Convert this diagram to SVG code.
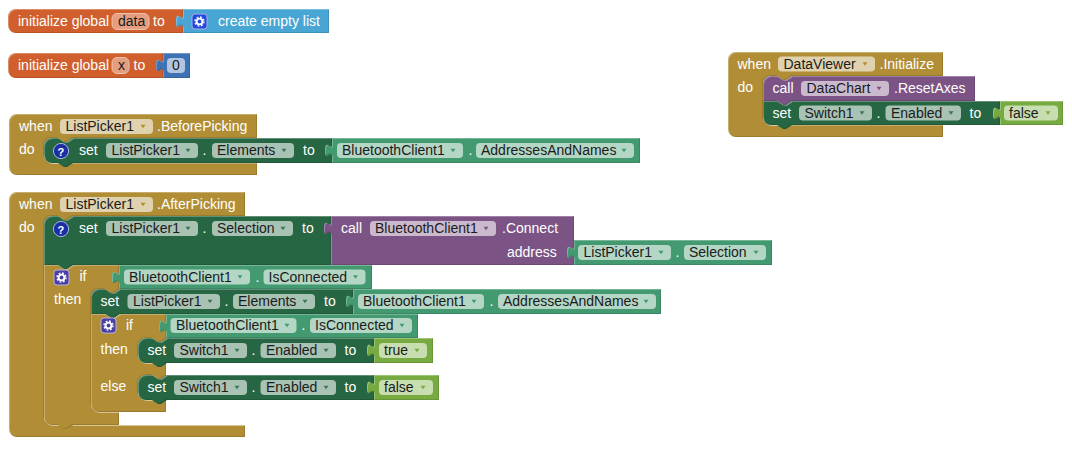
<svg xmlns="http://www.w3.org/2000/svg" width="1072" height="455" viewBox="0 0 1072 455">
<style>
text{font-family:"Liberation Sans",Arial,sans-serif;font-size:14px;fill:#fff}
text.f{fill:#1b1b1b}
.b{filter:url(#bevel)}
.gold{fill:#b18e35}.dg{fill:#266643}.mg{fill:#439970}.pu{fill:#7c5385}.or{fill:#d05f2d}.lb{fill:#49a6d4}.nb{fill:#3f71b5}.lg{fill:#77ab41}
.fgold{fill:#e0d2ae}.fdg{fill:#a8c2b4}.fmg{fill:#b3d6c5}.fpu{fill:#cbbace}.flg{fill:#c8ddb0}.fnb{fill:#b2c6e1}
.for{fill:#e59f80;stroke:#efbfa8;stroke-width:1}
.hl{fill:none;stroke:#fff;stroke-opacity:.8;stroke-width:1}
.agold{fill:#b18e35}.adg{fill:#3d7558}.amg{fill:#439970}.apu{fill:#7c5385}.alg{fill:#77ab41}
</style>
<defs>
<filter id="bevel" x="-5%" y="-10%" width="110%" height="120%" color-interpolation-filters="sRGB">
<feOffset in="SourceAlpha" dx="1" dy="1" result="o1"/>
<feComposite in="SourceAlpha" in2="o1" operator="out" result="e1"/>
<feFlood flood-color="#fff" flood-opacity=".28"/>
<feComposite in2="e1" operator="in" result="light"/>
<feOffset in="SourceAlpha" dx="-1" dy="-1" result="o2"/>
<feComposite in="SourceAlpha" in2="o2" operator="out" result="e2"/>
<feFlood flood-color="#000" flood-opacity=".12"/>
<feComposite in2="e2" operator="in" result="dark"/>
<feMerge><feMergeNode in="SourceGraphic"/><feMergeNode in="light"/><feMergeNode in="dark"/></feMerge>
</filter>
<path id="tab" d="M0,0c0,9 -7,-7 -7,6.500s7,-2.500 7,6.500z"/>
<path id="arr" d="M-2.500,-1.700h5l-2.500,3.400z"/>
<g id="gear"><circle r="2.900" fill="none" stroke="#fff" stroke-width="1.900"/><circle r="4.500" fill="none" stroke="#fff" stroke-width="1.400" stroke-dasharray="1.77 1.77"/></g>
<g id="ask"><circle r="7.600" fill="#1a2fa5" stroke="#aab6de" stroke-width="1"/></g>
</defs>

<g id="init-data">
<g class="b"><path class="or" d="M16,9H183V33H16a8,8 0 0 1 -8,-8V17a8,8 0 0 1 8,-8z"/></g>
<text x="18" y="26">initialize global</text>
<rect class="for" x="112" y="13.500" width="37" height="16" rx="5"/><text class="f" x="118" y="26">data</text>
<text x="153" y="26">to</text>
</g>
<g id="create-empty-list">
<g class="b lb"><use href="#tab" x="183" y="15"/><rect x="183" y="9" width="146" height="24"/></g>
<rect x="192" y="14" width="15" height="15" rx="3" fill="#2249dc" stroke="#9fb1ea"/><use href="#gear" x="199.500" y="21.500"/>
<text x="218" y="26">create empty list</text>
</g>

<g id="init-x">
<g class="b"><path class="or" d="M16,53H163V78H16a8,8 0 0 1 -8,-8V61a8,8 0 0 1 8,-8z"/></g>
<text x="18" y="70">initialize global</text>
<rect class="for" x="112" y="57.500" width="17" height="16" rx="5"/><text class="f" x="118" y="70">x</text>
<text x="133.500" y="70">to</text>
</g>
<g id="number-0">
<g class="b nb"><use href="#tab" x="163" y="59"/><rect x="163" y="53" width="27" height="25"/></g>
<rect class="fnb" x="167" y="58" width="18" height="15" rx="4"/><text class="f" x="172" y="70">0</text>
</g>

<g id="before-picking">
<g class="b"><path class="gold" d="M17,114H257V138H73l-6,4h-3l-6,-4H52a8,8 0 0 0 -8,8V155a8,8 0 0 0 8,8H257V175H17a8,8 0 0 1 -8,-8V122a8,8 0 0 1 8,-8z"/></g>
<path class="hl" d="M44.500,155a8,8 0 0 0 8,8H62"/>
<text x="19" y="131">when</text>
<rect class="fgold" x="60" y="119" width="93" height="15" rx="4"/><text class="f" x="65.500" y="131">ListPicker1</text><use href="#arr" class="agold" x="143" y="126.500"/>
<text x="157" y="131">.BeforePicking</text>
<text x="19" y="154">do</text>
</g>
<g id="set-elements">
<g class="b"><path class="dg" d="M44,146a8,8 0 0 1 8,-8H58l6,4h3l6,-4H332V163H73l-6,4h-3l-6,-4H52a8,8 0 0 1 -8,-8z"/></g>
<use href="#ask" x="61" y="151"/><text x="57.500" y="155.500" style="font-size:11px;font-weight:bold">?</text>
<text x="79" y="155">set</text>
<rect class="fdg" x="106" y="143" width="92" height="15" rx="4"/><text class="f" x="111.500" y="155">ListPicker1</text><use href="#arr" class="adg" x="188" y="150.500"/>
<text x="202.500" y="155">.</text>
<rect class="fdg" x="212" y="143" width="82" height="15" rx="4"/><text class="f" x="217" y="155">Elements</text><use href="#arr" class="adg" x="284" y="150.500"/>
<text x="303" y="155">to</text>
</g>
<g id="get-addresses-1">
<g class="b mg"><use href="#tab" x="332" y="144"/><rect x="332" y="138" width="308" height="25"/></g>
<rect class="fmg" x="337" y="143" width="126" height="15" rx="4"/><text class="f" x="342" y="155">BluetoothClient1</text><use href="#arr" class="amg" x="453" y="150.500"/>
<text x="468.500" y="155">.</text>
<rect class="fmg" x="476" y="143" width="158" height="15" rx="4"/><text class="f" x="481" y="155">AddressesAndNames</text><use href="#arr" class="amg" x="624" y="150.500"/>
</g>

<g id="after-picking">
<g class="b"><path class="gold" d="M17,192H245V216H73l-6,4h-3l-6,-4H52a8,8 0 0 0 -8,8V417a8,8 0 0 0 8,8H245V437H17a8,8 0 0 1 -8,-8V200a8,8 0 0 1 8,-8z"/></g>
<path class="hl" d="M44.500,417a8,8 0 0 0 8,8H60M73,425H245" style="stroke-opacity:.6"/>
<text x="19" y="209">when</text>
<rect class="fgold" x="60" y="197" width="93" height="15" rx="4"/><text class="f" x="65.500" y="209">ListPicker1</text><use href="#arr" class="agold" x="143" y="204.500"/>
<text x="157" y="209">.AfterPicking</text>
<text x="19" y="232">do</text>
</g>
<g id="outer-if">
<g class="b"><path class="gold" d="M44,265H58l6,4h3l6,-4H119V289H120l-6,4h-3l-6,-4H99a8,8 0 0 0 -8,8V404a8,8 0 0 0 8,8H119V425H73l-6,4h-3l-6,-4H52a8,8 0 0 1 -8,-8z"/></g>
<path class="hl" d="M91.500,404a8,8 0 0 0 8,8H119" style="stroke-opacity:.6"/>
<rect x="54" y="270" width="15" height="15" rx="3" fill="#4a3fa5" stroke="#b8b3de"/><use href="#gear" x="61.500" y="277.500"/>
<text x="79.500" y="281">if</text>
<text x="54" y="304">then</text>
</g>
<g id="set-selection">
<g class="b"><path class="dg" d="M44,224a8,8 0 0 1 8,-8H58l6,4h3l6,-4H331V265H73l-6,4h-3l-6,-4H44z"/></g>
<use href="#ask" x="61" y="229"/><text x="57.500" y="233.500" style="font-size:11px;font-weight:bold">?</text>
<text x="79" y="233">set</text>
<rect class="fdg" x="106" y="221" width="92" height="15" rx="4"/><text class="f" x="111.500" y="233">ListPicker1</text><use href="#arr" class="adg" x="188" y="228.500"/>
<text x="202.500" y="233">.</text>
<rect class="fdg" x="212" y="221" width="81" height="15" rx="4"/><text class="f" x="217" y="233">Selection</text><use href="#arr" class="adg" x="283" y="228.500"/>
<text x="302" y="233">to</text>
</g>
<g id="call-connect">
<g class="b pu"><use href="#tab" x="331" y="222"/><rect x="331" y="216" width="243" height="49"/></g>
<text x="341" y="233">call</text>
<rect class="fpu" x="370" y="221" width="126" height="15" rx="4"/><text class="f" x="375" y="233">BluetoothClient1</text><use href="#arr" class="apu" x="486" y="228.500"/>
<text x="502" y="233">.Connect</text>
<text x="507" y="257">address</text>
</g>
<g id="get-selection">
<g class="b mg"><use href="#tab" x="574" y="246"/><rect x="574" y="240" width="198" height="25"/></g>
<rect class="fmg" x="578" y="245" width="93" height="15" rx="4"/><text class="f" x="583.500" y="257">ListPicker1</text><use href="#arr" class="amg" x="661" y="252.500"/>
<text x="675.500" y="257">.</text>
<rect class="fmg" x="684" y="245" width="82" height="15" rx="4"/><text class="f" x="689" y="257">Selection</text><use href="#arr" class="amg" x="756" y="252.500"/>
</g>
<g id="is-connected-1">
<g class="b mg"><use href="#tab" x="119" y="271"/><rect x="119" y="265" width="253" height="24"/></g>
<rect class="fmg" x="124" y="269.500" width="126" height="15" rx="4"/><text class="f" x="129" y="281.500">BluetoothClient1</text><use href="#arr" class="amg" x="240" y="277"/>
<text x="255.500" y="281.500">.</text>
<rect class="fmg" x="263.500" y="269.500" width="102" height="15" rx="4"/><text class="f" x="268.500" y="281.500">IsConnected</text><use href="#arr" class="amg" x="355.500" y="277"/>
</g>
<g id="set-elements-2">
<g class="b"><path class="dg" d="M91,297a8,8 0 0 1 8,-8H105l6,4h3l6,-4H353V314H120l-6,4h-3l-6,-4H91z"/></g>
<text x="100.500" y="306">set</text>
<rect class="fdg" x="127.500" y="294" width="92.500" height="15" rx="4"/><text class="f" x="133" y="306">ListPicker1</text><use href="#arr" class="adg" x="210" y="301.500"/>
<text x="224.500" y="306">.</text>
<rect class="fdg" x="233" y="294" width="82" height="15" rx="4"/><text class="f" x="238" y="306">Elements</text><use href="#arr" class="adg" x="305" y="301.500"/>
<text x="324" y="306">to</text>
</g>
<g id="get-addresses-2">
<g class="b mg"><use href="#tab" x="353" y="295"/><rect x="353" y="289" width="308" height="25"/></g>
<rect class="fmg" x="358" y="294" width="126" height="15" rx="4"/><text class="f" x="363" y="306">BluetoothClient1</text><use href="#arr" class="amg" x="474" y="301.500"/>
<text x="489.500" y="306">.</text>
<rect class="fmg" x="498" y="294" width="158" height="15" rx="4"/><text class="f" x="503" y="306">AddressesAndNames</text><use href="#arr" class="amg" x="646" y="301.500"/>
</g>
<g id="inner-if">
<g class="b"><path class="gold" d="M91,314H105l6,4h3l6,-4H166V338H167l-6,4h-3l-6,-4H146a8,8 0 0 0 -8,8V355a8,8 0 0 0 8,8H166V375H167l-6,4h-3l-6,-4H146a8,8 0 0 0 -8,8V392a8,8 0 0 0 8,8H166V412H99a8,8 0 0 1 -8,-8z"/></g>
<path class="hl" d="M138.500,355a8,8 0 0 0 8,8H166M138.500,392a8,8 0 0 0 8,8H166" style="stroke-opacity:.6"/>
<rect x="101" y="318" width="15" height="15" rx="3" fill="#4a3fa5" stroke="#b8b3de"/><use href="#gear" x="108.500" y="325.500"/>
<text x="126" y="330">if</text>
<text x="100.500" y="354">then</text>
<text x="100.500" y="391">else</text>
</g>
<g id="is-connected-2">
<g class="b mg"><use href="#tab" x="166" y="320"/><rect x="166" y="314" width="252" height="24"/></g>
<rect class="fmg" x="170.500" y="318" width="126" height="15" rx="4"/><text class="f" x="176" y="330">BluetoothClient1</text><use href="#arr" class="amg" x="287" y="325.500"/>
<text x="301.500" y="330">.</text>
<rect class="fmg" x="310" y="318" width="102" height="15" rx="4"/><text class="f" x="315" y="330">IsConnected</text><use href="#arr" class="amg" x="402" y="325.500"/>
</g>
<g id="set-enabled-true">
<g class="b"><path class="dg" d="M138,346a8,8 0 0 1 8,-8H152l6,4h3l6,-4H374V363H167l-6,4h-3l-6,-4H146a8,8 0 0 1 -8,-8z"/></g>
<text x="147.500" y="355">set</text>
<rect class="fdg" x="174" y="343" width="73" height="15" rx="4"/><text class="f" x="179.500" y="355">Switch1</text><use href="#arr" class="adg" x="237" y="350.500"/>
<text x="251.500" y="355">.</text>
<rect class="fdg" x="260.500" y="343" width="75.500" height="15" rx="4"/><text class="f" x="266" y="355">Enabled</text><use href="#arr" class="adg" x="326" y="350.500"/>
<text x="344.500" y="355">to</text>
</g>
<g id="bool-true">
<g class="b lg"><use href="#tab" x="374" y="344"/><rect x="374" y="338" width="59" height="25"/></g>
<rect class="flg" x="379" y="343" width="48" height="15" rx="4"/><text class="f" x="384" y="355">true</text><use href="#arr" class="alg" x="417" y="350.500"/>
</g>
<g id="set-enabled-false">
<g class="b"><path class="dg" d="M138,383a8,8 0 0 1 8,-8H152l6,4h3l6,-4H374V400H167l-6,4h-3l-6,-4H146a8,8 0 0 1 -8,-8z"/></g>
<text x="147.500" y="392">set</text>
<rect class="fdg" x="174" y="380" width="73" height="15" rx="4"/><text class="f" x="179.500" y="392">Switch1</text><use href="#arr" class="adg" x="237" y="387.500"/>
<text x="251.500" y="392">.</text>
<rect class="fdg" x="260.500" y="380" width="75.500" height="15" rx="4"/><text class="f" x="266" y="392">Enabled</text><use href="#arr" class="adg" x="326" y="387.500"/>
<text x="344.500" y="392">to</text>
</g>
<g id="bool-false">
<g class="b lg"><use href="#tab" x="374" y="381"/><rect x="374" y="375" width="65" height="25"/></g>
<rect class="flg" x="379" y="380" width="54" height="15" rx="4"/><text class="f" x="384" y="392">false</text><use href="#arr" class="alg" x="423" y="387.500"/>
</g>

<g id="dataviewer-init">
<g class="b"><path class="gold" d="M736,52H943V76H792l-6,4h-3l-6,-4H771a8,8 0 0 0 -8,8V117a8,8 0 0 0 8,8H943V137H736a8,8 0 0 1 -8,-8V60a8,8 0 0 1 8,-8z"/></g>
<path class="hl" d="M763.500,117a8,8 0 0 0 8,8H781"/>
<text x="737.500" y="68.500">when</text>
<rect class="fgold" x="778" y="56.500" width="97" height="15" rx="4"/><text class="f" x="783.500" y="68.500">DataViewer</text><use href="#arr" class="agold" x="865" y="64"/>
<text x="879.500" y="68.500">.Initialize</text>
<text x="737.500" y="92">do</text>
</g>
<g id="call-resetaxes">
<g class="b"><path class="pu" d="M763,84a8,8 0 0 1 8,-8H777l6,4h3l6,-4H975V101H792l-6,4h-3l-6,-4H763z"/></g>
<text x="772.500" y="93">call</text>
<rect class="fpu" x="801" y="81" width="88" height="15" rx="4"/><text class="f" x="806.500" y="93">DataChart</text><use href="#arr" class="apu" x="879" y="88.500"/>
<text x="894" y="93">.ResetAxes</text>
</g>
<g id="set-enabled-init">
<g class="b"><path class="dg" d="M763,101H777l6,4h3l6,-4H1000V125H792l-6,4h-3l-6,-4H771a8,8 0 0 1 -8,-8z"/></g>
<text x="772.500" y="117.500">set</text>
<rect class="fdg" x="799" y="105.500" width="73" height="15" rx="4"/><text class="f" x="804.500" y="117.500">Switch1</text><use href="#arr" class="adg" x="862" y="113"/>
<text x="876.500" y="117.500">.</text>
<rect class="fdg" x="885.500" y="105.500" width="75.500" height="15" rx="4"/><text class="f" x="891" y="117.500">Enabled</text><use href="#arr" class="adg" x="951" y="113"/>
<text x="969.500" y="117.500">to</text>
</g>
<g id="bool-false-init">
<g class="b lg"><use href="#tab" x="1000" y="107"/><rect x="1000" y="101" width="63" height="24"/></g>
<rect class="flg" x="1004" y="105.500" width="54" height="15" rx="4"/><text class="f" x="1009" y="117.500">false</text><use href="#arr" class="alg" x="1048" y="113"/>
</g>
</svg>
